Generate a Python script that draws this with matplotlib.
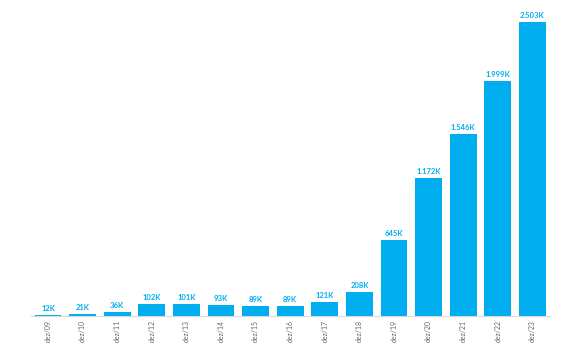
import matplotlib
matplotlib.use("Agg")
import matplotlib.pyplot as plt

periodos = ["dez/09", "dez/10", "dez/11", "dez/12", "dez/13", "dez/14", "dez/15", "dez/16",
            "dez/17", "dez/18", "dez/19", "dez/20", "dez/21", "dez/22", "dez/23"]
valores = [12, 21, 36, 102, 101, 93, 89, 89, 121, 208, 645, 1172, 1546, 1999, 2503]
rotulos = ["12K", "21K", "36K", "102K", "101K", "93K", "89K", "89K", "121K", "208K",
           "645K", "1.172K", "1.546K", "1.999K", "2.503K"]

azul = "#00adef"

fig = plt.figure(figsize=(5.67, 3.5), dpi=100)
ax = fig.add_axes([30.7 / 567, 34 / 350, 519 / 567, 311 / 350])

x = range(len(periodos))
barras = ax.bar(x, valores, width=0.78, color=azul)

for b, txt in zip(barras, rotulos):
    ax.text(b.get_x() + b.get_width() / 2, b.get_height() + 25, txt,
            ha="center", va="bottom", fontsize=5.5, color=azul,
            fontfamily="Lato", fontweight="bold")

ax.set_xlim(-0.5, len(periodos) - 0.5)
ax.set_ylim(0, 2648)
ax.set_xticks(list(x))
ax.set_xticklabels(periodos, rotation=90, fontsize=5, color="#666666", fontfamily="Lato")
ax.tick_params(axis="x", length=0, pad=3)
ax.set_yticks([])
for s in ["top", "right", "left"]:
    ax.spines[s].set_visible(False)
ax.spines["bottom"].set_color("#d9d9d9")
ax.spines["bottom"].set_linewidth(0.8)

fig.savefig("out.png", dpi=100)
